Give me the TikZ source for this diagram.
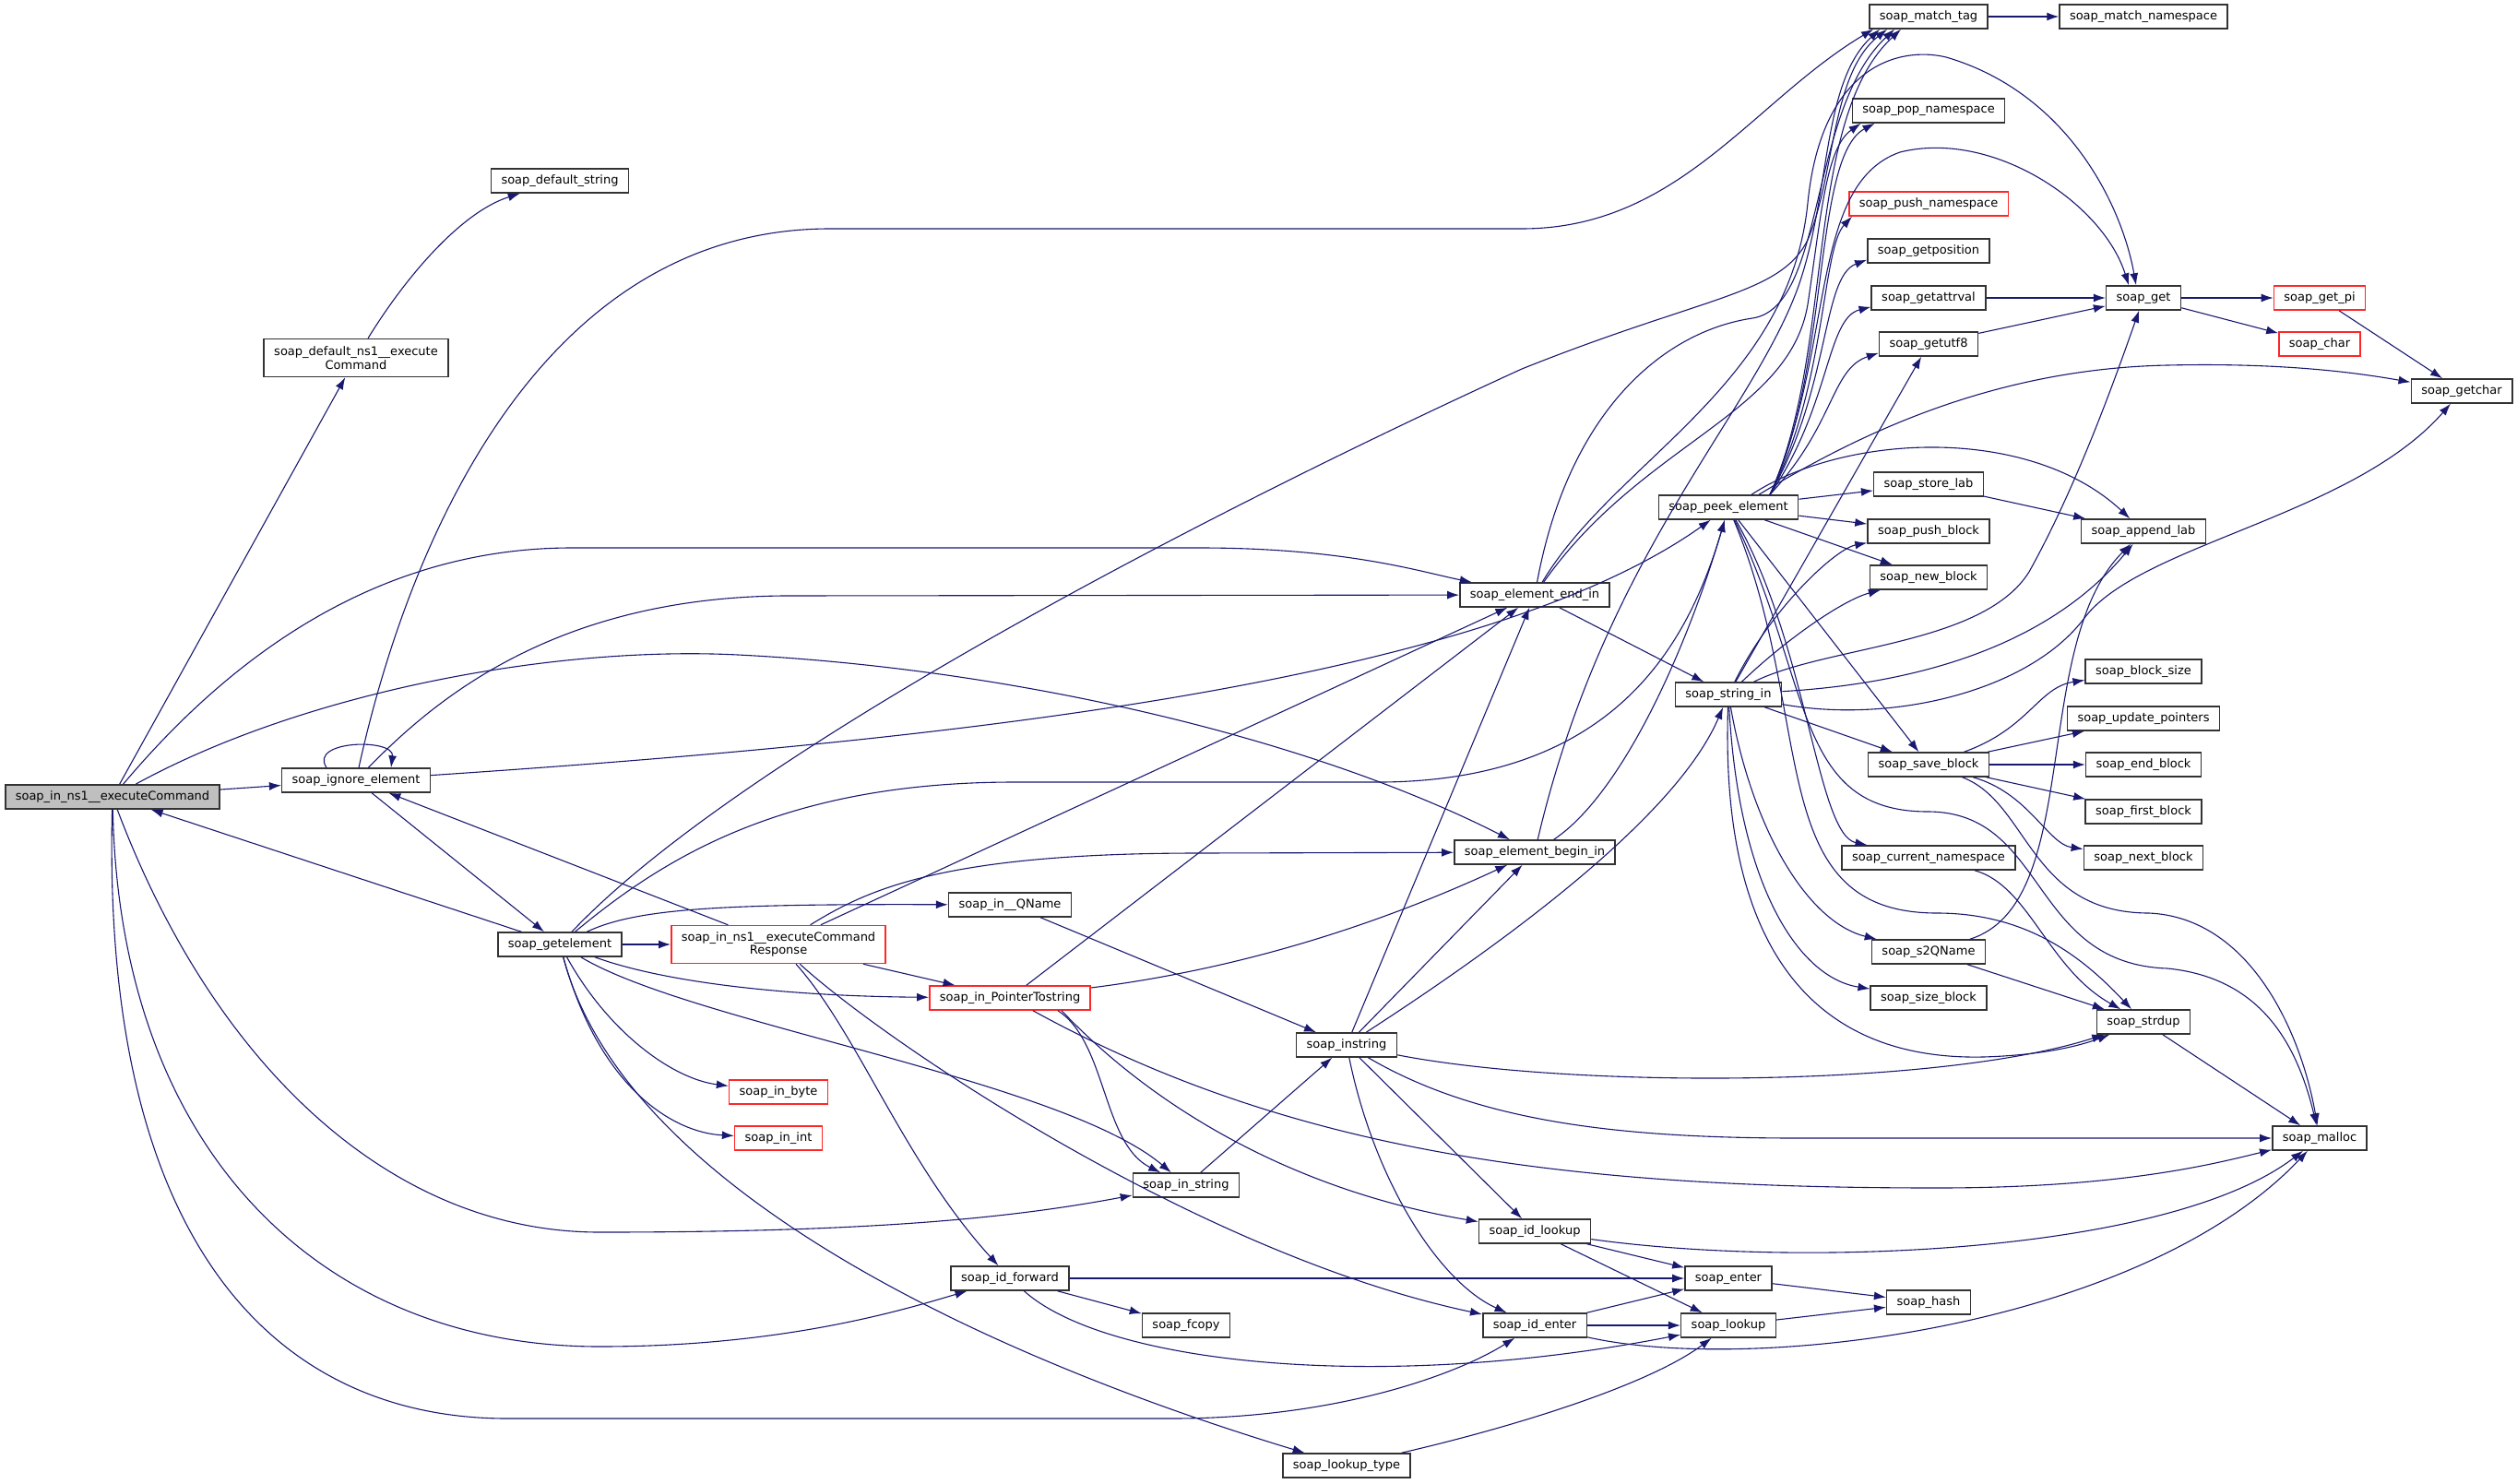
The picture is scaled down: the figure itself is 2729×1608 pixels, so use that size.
\documentclass[tikz,border=0pt]{standalone}
\usepackage{fontspec}
\setmainfont{DejaVu Sans}
\usepackage{tikz}
\usetikzlibrary{arrows.meta}
\definecolor{edgeblue}{HTML}{191970}
\definecolor{mainfill}{HTML}{BFBFBF}
\tikzset{
    fn/.style={shape=rectangle, draw=black!80, fill=white, line width=1.5pt,
        inner xsep=11pt, inner ysep=0pt, minimum height=26pt,
        font=\fontsize{13}{14.8}\selectfont},
    fnred/.style={fn, draw=red!85},
    fnmain/.style={fn, fill=mainfill},
    call/.style={->, draw=edgeblue, line width=1.1pt},
    >={Latex[length=13pt, width=9pt]}}

\begin{document}
\begin{tikzpicture}[x=1pt, y=-1pt]
\useasboundingbox (0,0) rectangle (2729,1608);

                    \node[fnmain] (main) at (122,864) {soap\_in\_ns1\_\_executeCommand};
                    \node[fn, align=center, minimum height=41pt] (defcmd) at (386,388) {soap\_default\_ns1\_\_execute\\Command};
                    \node[fn] (defstr) at (607,196) {soap\_default\_string};
                    \node[fn] (ignore) at (386,846) {soap\_ignore\_element};
                    \node[fn] (getel) at (607,1024) {soap\_getelement};
                    \node[fnred, align=center, minimum height=41pt] (resp) at (844,1024) {soap\_in\_ns1\_\_executeCommand\\Response};
                    \node[fnred] (inbyte) at (844,1184) {soap\_in\_byte};
                    \node[fnred] (inint) at (844,1234) {soap\_in\_int};
                    \node[fn] (qname) at (1095,981) {soap\_in\_\_QName};
                    \node[fnred] (ptrstr) at (1095,1082) {soap\_in\_PointerTostring};
                    \node[fn] (instr) at (1286,1285) {soap\_in\_string};
                    \node[fn] (idfwd) at (1095,1386) {soap\_id\_forward};
                    \node[fn] (fcopy) at (1286,1437) {soap\_fcopy};
                    \node[fn] (lktype) at (1460,1589) {soap\_lookup\_type};
                    \node[fn] (instring) at (1460,1133) {soap\_instring};
                    \node[fn] (endin) at (1664,645) {soap\_element\_end\_in};
                    \node[fn] (beginin) at (1664,924) {soap\_element\_begin\_in};
                    \node[fn] (idlookup) at (1664,1335) {soap\_id\_lookup};
                    \node[fn] (identer) at (1664,1437) {soap\_id\_enter};
                    \node[fn] (enter) at (1874,1386) {soap\_enter};
                    \node[fn] (lookup) at (1874,1437) {soap\_lookup};
                    \node[fn] (hash) at (2091,1412) {soap\_hash};
                    \node[fn] (peek) at (1874,550) {soap\_peek\_element};
                    \node[fn] (strin) at (1874,753) {soap\_string\_in};
                    \node[fn] (matchtag) at (2091,18) {soap\_match\_tag};
                    \node[fn] (matchns) at (2324,18) {soap\_match\_namespace};
                    \node[fn] (popns) at (2091,120) {soap\_pop\_namespace};
                    \node[fnred] (pushns) at (2091,221) {soap\_push\_namespace};
                    \node[fn] (getpos) at (2091,272) {soap\_getposition};
                    \node[fn] (getattr) at (2091,323) {soap\_getattrval};
                    \node[fn] (getutf) at (2091,373) {soap\_getutf8};
                    \node[fn] (get) at (2324,323) {soap\_get};
                    \node[fnred] (getpi) at (2515,323) {soap\_get\_pi};
                    \node[fnred] (char) at (2515,373) {soap\_char};
                    \node[fn] (getchar) at (2669,424) {soap\_getchar};
                    \node[fn] (storelab) at (2091,525) {soap\_store\_lab};
                    \node[fn] (pushblk) at (2091,576) {soap\_push\_block};
                    \node[fn] (newblk) at (2091,626) {soap\_new\_block};
                    \node[fn] (appendlab) at (2324,576) {soap\_append\_lab};
                    \node[fn] (blksize) at (2324,728) {soap\_block\_size};
                    \node[fn] (updptr) at (2324,779) {soap\_update\_pointers};
                    \node[fn] (saveblk) at (2091,829) {soap\_save\_block};
                    \node[fn] (endblk) at (2324,829) {soap\_end\_block};
                    \node[fn] (firstblk) at (2324,880) {soap\_first\_block};
                    \node[fn] (nextblk) at (2324,930) {soap\_next\_block};
                    \node[fn] (curns) at (2091,930) {soap\_current\_namespace};
                    \node[fn] (s2q) at (2091,1032) {soap\_s2QName};
                    \node[fn] (sizeblk) at (2091,1082) {soap\_size\_block};
                    \node[fn] (strdup) at (2324,1108) {soap\_strdup};
                    \node[fn] (malloc) at (2515,1234) {soap\_malloc};

                    \draw[call] (main) -- (defcmd);
                    \draw[call] (defcmd) .. controls (440,300) and (500,230) .. (defstr);
                    \draw[call] (main) -- (ignore);
                    \draw[call] (main) .. controls (260,700) and (420,594) .. (620,594) -- (1300,594) .. controls (1460,594) and (1540,620) .. (endin);
                    \draw[call] (main) .. controls (330,750) and (600,700) .. (800,710) .. controls (1100,725) and (1420,800) .. (beginin);
                    \draw[call] (main) .. controls (230,1150) and (420,1336) .. (650,1336) .. controls (950,1336) and (1100,1320) .. (instr);
                    \draw[call] (main) .. controls (130,1250) and (350,1460) .. (650,1460) .. controls (850,1460) and (980,1420) .. (idfwd);
                    \draw[call] (main) .. controls (110,1350) and (300,1538) .. (550,1538) -- (1270,1538) .. controls (1450,1538) and (1580,1490) .. (identer);

                    \draw[call] ([xshift=-32pt]ignore.north) .. controls ([xshift=-52pt, yshift=30pt]ignore.north) and ([xshift=42pt, yshift=32pt]ignore.north) .. ([xshift=38pt]ignore.north);
                    \draw[call] (ignore) .. controls (440,600) and (580,248) .. (900,248) -- (1650,248) .. controls (1820,248) and (1900,110) .. ([xshift=5pt]matchtag.south west);
                    \draw[call] (ignore) .. controls (470,760) and (600,648) .. (850,646) -- (endin);
                    \draw[call] (ignore) .. controls (1000,805) and (1600,745) .. (peek);
                    \draw[call] (ignore) -- (getel);

                    \draw[call] (getel) -- (main);
                    \draw[call] (getel) .. controls (800,820) and (1300,560) .. (1650,400) .. controls (1850,320) and (1930,320) .. (1960,260) .. controls (1990,190) and (1985,80) .. ([xshift=20pt]matchtag.south west);
                    \draw[call] (getel) .. controls (720,930) and (850,848) .. (1100,848) -- (1500,848) .. controls (1750,845) and (1830,700) .. (peek);
                    \draw[call] (getel) -- (resp);
                    \draw[call] (getel) .. controls (690,985) and (780,980) .. (qname);
                    \draw[call] (getel) .. controls (720,1065) and (850,1080) .. (ptrstr);
                    \draw[call] (getel) .. controls (750,1110) and (1150,1170) .. (instr);
                    \draw[call] (getel) .. controls (660,1120) and (730,1170) .. (inbyte);
                    \draw[call] (getel) .. controls (650,1180) and (730,1228) .. (inint);
                    \draw[call] (getel) .. controls (680,1300) and (1100,1480) .. (lktype);

                    \draw[call] (resp) -- (ignore);
                    \draw[call] (resp) -- (endin);
                    \draw[call] (resp) .. controls (940,965) and (1020,925) .. (1300,925) -- (beginin);
                    \draw[call] (resp) -- (ptrstr);
                    \draw[call] (resp) .. controls (930,1120) and (980,1260) .. (idfwd);
                    \draw[call] (resp) .. controls (960,1130) and (1300,1360) .. (identer);

                    \draw[call] (qname) -- (instring);
                    \draw[call] (ptrstr) -- (endin);
                    \draw[call] (ptrstr) .. controls (1350,1050) and (1500,1000) .. (beginin);
                    \draw[call] ([xshift=52pt]ptrstr.south) .. controls (1200,1130) and (1195,1240) .. (instr);
                    \draw[call] ([xshift=56pt]ptrstr.south) .. controls (1250,1200) and (1400,1290) .. (idlookup);
                    \draw[call] (ptrstr) .. controls (1400,1250) and (1700,1288) .. (2100,1288) .. controls (2300,1288) and (2400,1262) .. (malloc);
                    \draw[call] (instr) -- (instring);

                    \draw[call] (instring) -- (endin);
                    \draw[call] (instring) -- (beginin);
                    \draw[call] (instring) .. controls (1650,1010) and (1820,880) .. (strin);
                    \draw[call] (instring) .. controls (1700,1180) and (2100,1180) .. (strdup);
                    \draw[call] (instring) .. controls (1600,1215) and (1750,1234) .. (1950,1234) -- (malloc);
                    \draw[call] (instring) -- (idlookup);
                    \draw[call] (instring) .. controls (1490,1280) and (1560,1390) .. (identer);

                    \draw[call] (idfwd) -- (enter);
                    \draw[call] (idfwd) -- (fcopy);
                    \draw[call] (idfwd) .. controls (1200,1480) and (1500,1510) .. (lookup);
                    \draw[call] (identer) -- (enter);
                    \draw[call] (identer) -- (lookup);
                    \draw[call] (identer) .. controls (1900,1490) and (2320,1440) .. (malloc);
                    \draw[call] (idlookup) -- (enter);
                    \draw[call] (idlookup) -- (lookup);
                    \draw[call] (idlookup) .. controls (1950,1375) and (2350,1360) .. (malloc);
                    \draw[call] (enter) -- (hash);
                    \draw[call] (lookup) -- (hash);
                    \draw[call] (lktype) .. controls (1650,1545) and (1790,1500) .. (lookup);

                    \draw[call] (endin) -- (strin);
                    \draw[call] (endin) .. controls (1700,450) and (1800,360) .. (1900,345) .. controls (1980,333) and (1960,120) .. ([xshift=28pt]matchtag.south west);
                    \draw[call] (endin) .. controls (1780,480) and (1940,450) .. (1960,330) .. controls (1975,230) and (1980,160) .. ([xshift=10pt]popns.south west);
                    \draw[call] (endin) .. controls (1750,500) and (1940,420) .. (1960,220) .. controls (1975,70) and (2060,50) .. (2110,62) .. controls (2240,100) and (2300,220) .. ([xshift=-8pt]get.north);
                    \draw[call] (beginin) .. controls (1760,860) and (1830,700) .. (peek);
                    \draw[call] (beginin) .. controls (1740,600) and (1900,450) .. (1950,310) .. controls (1985,210) and (1975,90) .. ([xshift=12pt]matchtag.south west);

                    \draw[call] ([xshift=45pt]peek.north) .. controls (1990,380) and (1955,130) .. ([xshift=35pt]matchtag.south west);
                    \draw[call] ([xshift=45pt]peek.north) .. controls (1985,400) and (1965,170) .. ([xshift=25pt]popns.south west);
                    \draw[call] ([xshift=45pt]peek.north) .. controls (1980,420) and (1975,270) .. ([xshift=4pt]pushns.south west);
                    \draw[call] ([xshift=45pt]peek.north) .. controls (1985,420) and (1975,300) .. ([yshift=4pt]getpos.south west);
                    \draw[call] ([xshift=45pt]peek.north) .. controls (1985,440) and (1980,345) .. ([yshift=4pt]getattr.south west);
                    \draw[call] ([xshift=45pt]peek.north) .. controls (1990,460) and (1985,400) .. ([yshift=4pt]getutf.south west);
                    \draw[call] ([xshift=45pt]peek.north) .. controls (1990,380) and (1960,200) .. (2060,165) .. controls (2160,140) and (2280,220) .. ([xshift=-16pt]get.north);
                    \draw[call] ([xshift=33pt]peek.north) .. controls (2000,480) and (2150,400) .. (2350,396) .. controls (2480,393) and (2560,405) .. (getchar);
                    \draw[call] ([xshift=25pt]peek.north) .. controls (2000,470) and (2200,460) .. (appendlab);
                    \draw[call] (peek) -- (storelab);
                    \draw[call] (peek) -- (pushblk);
                    \draw[call] (peek) -- (newblk);
                    \draw[call] (peek) -- (saveblk);
                    \draw[call] (peek) .. controls (1960,700) and (1970,905) .. (curns);
                    \draw[call] (peek) .. controls (1970,780) and (1910,990) .. (2100,990) .. controls (2200,990) and (2260,1040) .. (strdup);
                    \draw[call] (peek) .. controls (1965,740) and (1945,880) .. (2090,880) .. controls (2220,880) and (2200,1045) .. (2350,1050) .. controls (2450,1060) and (2490,1130) .. (malloc);

                    \draw[call] (strin) -- (getutf);
                    \draw[call] (strin) .. controls (1980,700) and (2150,700) .. (2200,620) .. controls (2250,530) and (2290,420) .. (get);
                    \draw[call] (strin) .. controls (2050,785) and (2200,750) .. (2260,670) .. controls (2320,590) and (2550,560) .. (getchar);
                    \draw[call] (strin) .. controls (2100,740) and (2230,690) .. (appendlab);
                    \draw[call] (strin) .. controls (1920,660) and (1990,595) .. (pushblk);
                    \draw[call] (strin) .. controls (1940,690) and (2000,650) .. (newblk);
                    \draw[call] (strin) -- (saveblk);
                    \draw[call] (strin) .. controls (1900,900) and (1960,1000) .. (s2q);
                    \draw[call] (strin) .. controls (1885,960) and (1950,1060) .. (sizeblk);
                    \draw[call] (strin) .. controls (1865,1020) and (1960,1150) .. (2150,1146) .. controls (2220,1144) and (2260,1132) .. (strdup);

                    \draw[call] (matchtag) -- (matchns);
                    \draw[call] (getattr) -- (get);
                    \draw[call] (getutf) -- (get);
                    \draw[call] (get) -- (getpi);
                    \draw[call] (get) -- (char);
                    \draw[call] (getpi) -- (getchar);
                    \draw[call] (storelab) -- (appendlab);
                    \draw[call] (s2q) -- (strdup);
                    \draw[call] (s2q) .. controls (2260,980) and (2200,700) .. (appendlab);
                    \draw[call] (curns) .. controls (2200,960) and (2220,1050) .. (strdup);
                    \draw[call] (strdup) -- (malloc);
                    \draw[call] (saveblk) .. controls (2200,790) and (2210,745) .. (blksize);
                    \draw[call] (saveblk) -- (updptr);
                    \draw[call] (saveblk) -- (endblk);
                    \draw[call] (saveblk) -- (firstblk);
                    \draw[call] (saveblk) .. controls (2200,860) and (2220,915) .. (nextblk);
                    \draw[call] (saveblk) .. controls (2200,870) and (2200,990) .. (2330,990) .. controls (2440,995) and (2495,1120) .. (malloc);

\end{tikzpicture}
\end{document}
